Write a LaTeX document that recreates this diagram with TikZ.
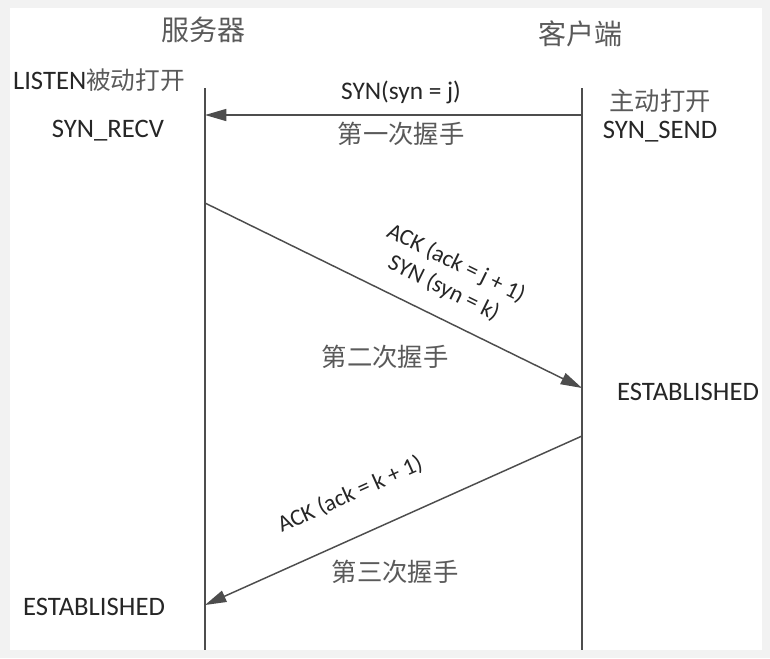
\documentclass[tikz,border=0pt]{standalone}
\usepackage{fontspec}
\setmainfont{Carlito}
\newfontfamily\cjk{Noto Sans CJK SC}
\usetikzlibrary{arrows.meta,positioning}
\definecolor{panel}{HTML}{F2F2F2}
\definecolor{wire}{HTML}{4D4D4D}
\definecolor{ink}{HTML}{262626}
\definecolor{cjkink}{HTML}{5A5A5A}

\tikzset{
  lat/.style={font=\fontsize{20}{22}\selectfont, text=ink, inner sep=1pt},
  tilted/.style={font=\fontsize{17.5}{21}\selectfont, text=ink, inner sep=1pt, sloped},
  han/.style={font=\cjk\fontsize{19}{22}\selectfont, text=cjkink, inner sep=1pt},
  lifeline/.style={draw=wire, line width=1.1pt},
  msg/.style={draw=wire, line width=1.1pt, -{Triangle[length=16pt,width=9pt]}}
}

\begin{document}
\begin{tikzpicture}[x=0.75pt, y=-0.75pt]
    \fill[panel] (0,0) rectangle (770,658);
    \fill[white] (10,8) rectangle (762,650);
    % the two sides
    \node[han, font=\cjk\fontsize{21}{24}\selectfont] (srv) at (203,30) {服务器};
    \node[han, font=\cjk\fontsize{21}{24}\selectfont] (cli) at (580,34) {客户端};
    \coordinate (srvtop) at (205,88);
    \coordinate (srvbot) at (205,650);
    \coordinate (clitop) at (582,88);
    \coordinate (clibot) at (582,650);
    \draw[lifeline] (srvtop) -- (srvbot);
    \draw[lifeline] (clitop) -- (clibot);
    % states
    \node[lat] (listen) at (99,80) {LISTEN{\color{cjkink}\cjk\fontsize{18.5}{22}\selectfont 被动打开}};
    \node[lat] (recv) at (108,131) {SYN\_RECV};
    \node[han] (active) at (660,101) {主动打开};
    \node[lat] (send) at (660,132) {SYN\_SEND};
    \node[lat] (estcli) at (688,392) {ESTABLISHED};
    \node[lat] (estsrv) at (94,607) {ESTABLISHED};
    % message ends
    \coordinate (c1) at (582,115);
    \coordinate (s1) at (205,115);
    \coordinate (s2) at (205,203);
    \coordinate (c2) at (582,388);
    \coordinate (c3) at (582,436);
    \coordinate (s3) at (205,605);
    % handshakes
    \draw[msg] (c1) -- node[lat, font=\fontsize{19}{22}\selectfont, pos=0.48, above=7pt] (syn) {SYN(syn = j)}
                       node[han, pos=0.48, below=4pt] (hs1) {第一次握手} (s1);
    \draw[msg] (s2) -- node[tilted, pos=0.6, above=12pt, align=center] (synack) {ACK (ack = j + 1)\\SYN (syn = k)} (c2);
    \node[han] (hs2) at (385,357) {第二次握手};
    \draw[msg] (c3) -- node[tilted, pos=0.57, above=22pt] (ack) {ACK (ack = k + 1)} (s3);
    \node[han] (hs3) at (395,572) {第三次握手};
\end{tikzpicture}
\end{document}
